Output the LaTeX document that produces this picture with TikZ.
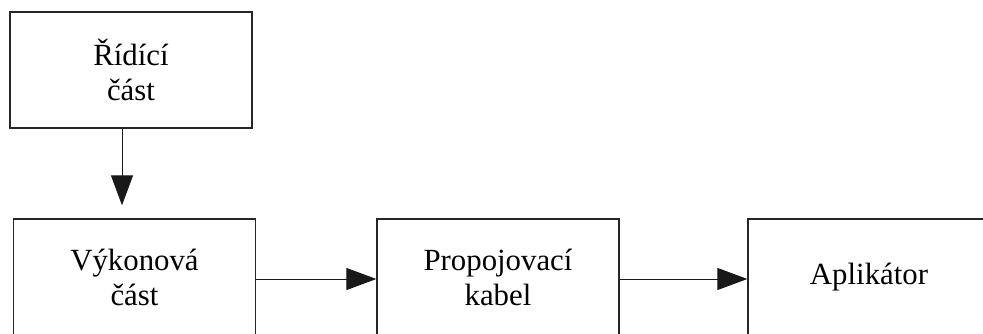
\documentclass[tikz,border=0pt]{standalone}
\usepackage{fontspec}
\setmainfont{Liberation Serif}
\usetikzlibrary{arrows.meta}

\begin{document}
\begin{tikzpicture}[
x=1pt, y=1pt,
blok/.style={rectangle, draw=black!85, line width=1.3pt, minimum width=242pt, minimum height=116pt, align=center, inner sep=0pt, font=\fontsize{30.8pt}{35pt}\selectfont},
sipka/.style={draw=black!90, line width=1pt, -{Triangle[length=30pt, width=22pt]}},
]
\useasboundingbox (0,0) rectangle (983,-334);

\node[blok]          (ridici)   at (131,-70) 		 {Řídící\\část};
\node[blok]          (vykonova) at (134.5,-277) 		 {Výkonová\\část};
\node[blok]          (kabel)    at (498,-277) 		 {Propojovací\\kabel};
\node[blok]          (aplikator) at (869,-277) 		 {Aplikátor};

\draw[sipka, shorten >=13pt] ([xshift=-9pt]ridici.south) -- ([xshift=-12.5pt]vykonova.north);
\draw[sipka] ([yshift=-2pt]vykonova.east) -- ([yshift=-2pt]kabel.west);
\draw[sipka] ([yshift=-2pt]kabel.east) -- ([yshift=-2pt]aplikator.west);

\end{tikzpicture}
\end{document}
